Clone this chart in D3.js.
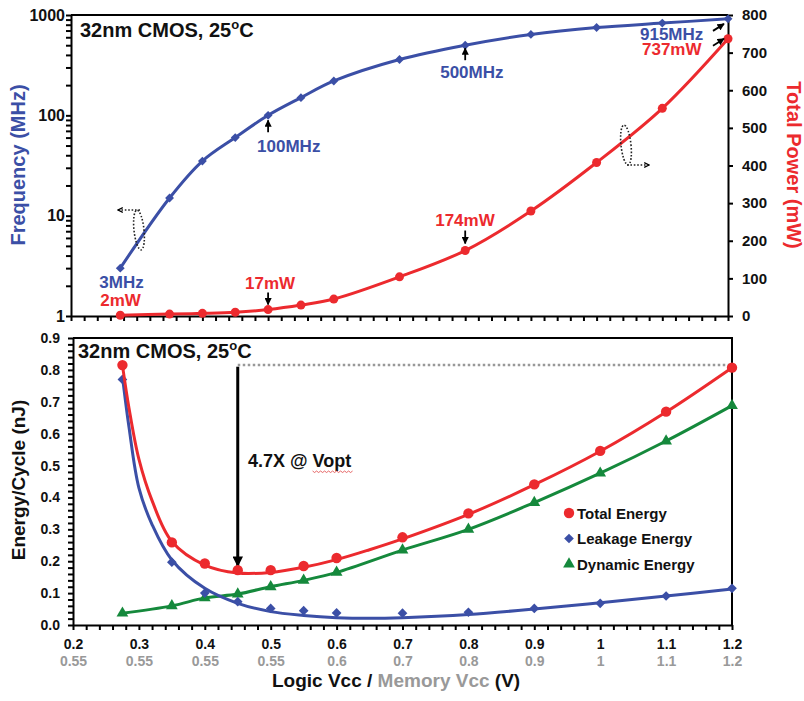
<!DOCTYPE html>
<html>
<head>
<meta charset="utf-8">
<script src="https://cdn.jsdelivr.net/npm/d3@7"></script>
<style>
  body { margin: 0; background: #fff; }
  text { font-family: "Liberation Sans", Arial, sans-serif; font-weight: bold; }
</style>
</head>
<body>
<svg id="chart" width="804" height="701"></svg>
<script>
// data
const vcc = [0.275, 0.35, 0.4, 0.45, 0.5, 0.55, 0.6, 0.7, 0.8, 0.9, 1.0, 1.1, 1.2];
const frequencyMHz = [3, 15, 35, 60, 100, 150, 220, 360, 500, 640, 750, 830, 915];
const totalPowerMW = [2, 5, 7, 10, 17, 29, 45, 104, 174, 279, 408, 552, 737];

const totalEnergy = [0.815, 0.259, 0.193, 0.172, 0.172, 0.185, 0.21, 0.275, 0.35, 0.441, 0.546, 0.669, 0.807];
const leakageEnergy = [0.77, 0.197, 0.1, 0.073, 0.052, 0.045, 0.038, 0.037, 0.04, 0.052, 0.068, 0.091, 0.115];
const dynamicEnergy = [0.037, 0.06, 0.085, 0.097, 0.12, 0.14, 0.165, 0.235, 0.3, 0.384, 0.476, 0.577, 0.688];

// trend lines as drawn in the figure (they run a little below the points in the valley)
const fitVcc = [0.275, 0.285, 0.3, 0.32, 0.35, 0.4, 0.45, 0.5, 0.55, 0.6, 0.65, 0.7, 0.8, 0.9, 1.0, 1.1, 1.2];
const totalFit = [0.815, 0.68, 0.52, 0.39, 0.262, 0.188, 0.163, 0.165, 0.181, 0.205, 0.236, 0.27, 0.347, 0.44, 0.545, 0.668, 0.807];
const leakageFit = [0.78, 0.62, 0.43, 0.315, 0.204, 0.115, 0.068, 0.042, 0.03, 0.023, 0.021, 0.023, 0.033, 0.05, 0.07, 0.091, 0.113];

const logicTicks = [0.2, 0.3, 0.4, 0.5, 0.6, 0.7, 0.8, 0.9, 1.0, 1.1, 1.2];
const logicTickLabels = ['0.2', '0.3', '0.4', '0.5', '0.6', '0.7', '0.8', '0.9', '1', '1.1', '1.2'];
const memoryTickLabels = ['0.55', '0.55', '0.55', '0.55', '0.6', '0.7', '0.8', '0.9', '1', '1.1', '1.2'];
const freqTicks = [1, 10, 100, 1000];
const powerTicks = [0, 100, 200, 300, 400, 500, 600, 700, 800];
const energyTicks = [0, 0.1, 0.2, 0.3, 0.4, 0.5, 0.6, 0.7, 0.8, 0.9];
const legendNames = ['Total Energy', 'Leakage Energy', 'Dynamic Energy'];

const BLUE = '#3b4fa6', RED = '#ec2a2e', GREEN = '#15893c', GRAY = '#999';

const svg = d3.select('#chart');

// arrow markers
const defs = svg.append('defs');
defs.append('marker').attr('id', 'tri')
  .attr('viewBox', '0 0 10 10').attr('refX', 9).attr('refY', 5)
  .attr('markerWidth', 4).attr('markerHeight', 4).attr('orient', 'auto')
  .append('path').attr('d', 'M0,0L10,5L0,10Z').attr('fill', '#000');
defs.append('marker').attr('id', 'chev')
  .attr('viewBox', '0 0 10 10').attr('refX', 9).attr('refY', 5)
  .attr('markerWidth', 6).attr('markerHeight', 6).attr('orient', 'auto')
  .attr('markerUnits', 'userSpaceOnUse')
  .append('path').attr('d', 'M1,1L9,5L1,9').attr('fill', 'none').attr('stroke', '#000').attr('stroke-width', 2);
defs.append('marker').attr('id', 'big')
  .attr('viewBox', '0 0 10 10').attr('refX', 10).attr('refY', 5)
  .attr('markerWidth', 4).attr('markerHeight', 3.5).attr('orient', 'auto')
  .append('path').attr('d', 'M0,0L10,5L0,10Z').attr('fill', '#000');

// ---------- top panel ----------
const xT = d3.scaleLinear().domain([0.2, 1.2]).range([71, 728]);
const yF = d3.scaleLog().domain([1, 1000]).range([316, 15]);
const yP = d3.scaleLinear().domain([0, 800]).range([316, 15]);
const minorX = d3.range(0, 51).map(i => 0.2 + i * 0.02);

const topG = svg.append('g');

topG.append('g').attr('transform', 'translate(0,316)')
  .call(d3.axisBottom(xT).tickValues(minorX).tickSize(5).tickSizeOuter(0).tickFormat(''))
  .call(g => g.selectAll('line,path').attr('stroke', '#000').attr('stroke-width', 2));

const logMinor = [];
[1, 10, 100].forEach(d => { for (let k = 1; k < 10; k++) logMinor.push(d * k); });
logMinor.push(1000);
topG.append('g').attr('transform', 'translate(71,0)')
  .call(d3.axisLeft(yF).tickValues(logMinor).tickSize(5).tickSizeOuter(0).tickFormat(''))
  .call(g => g.selectAll('line,path').attr('stroke', '#000').attr('stroke-width', 2));
topG.append('g').attr('transform', 'translate(71,0)')
  .call(d3.axisLeft(yF).tickValues(freqTicks).tickSize(0).tickPadding(6).tickFormat(d3.format('d')))
  .call(g => g.select('.domain').remove())
  .call(g => g.selectAll('text').attr('fill', '#111').attr('font-size', 16));

topG.append('g').attr('transform', 'translate(728,0)')
  .call(d3.axisRight(yP).tickValues(powerTicks).tickSize(5).tickPadding(9).tickSizeOuter(0))
  .call(g => g.selectAll('line,path').attr('stroke', '#000').attr('stroke-width', 2))
  .call(g => g.selectAll('text').attr('fill', '#111').attr('font-size', 15));

topG.append('line').attr('x1', 71).attr('x2', 728).attr('y1', 15).attr('y2', 15)
  .attr('stroke', '#000').attr('stroke-width', 2);

topG.append('text').attr('transform', 'translate(25,165) rotate(-90)')
  .attr('text-anchor', 'middle').attr('font-size', 20).attr('fill', BLUE).text('Frequency (MHz)');
topG.append('text').attr('transform', 'translate(787,165) rotate(90)')
  .attr('text-anchor', 'middle').attr('font-size', 20).attr('fill', RED).text('Total Power (mW)');

const freqLine = d3.line().x((d, i) => xT(vcc[i])).y(d => yF(d)).curve(d3.curveCatmullRom.alpha(0.5));
const powLine = d3.line().x((d, i) => xT(vcc[i])).y(d => yP(d)).curve(d3.curveCatmullRom.alpha(0.5));

topG.append('path').attr('d', freqLine(frequencyMHz)).attr('fill', 'none').attr('stroke', BLUE).attr('stroke-width', 3);
topG.append('path').attr('d', powLine(totalPowerMW)).attr('fill', 'none').attr('stroke', RED).attr('stroke-width', 3);

topG.selectAll('.fd').data(frequencyMHz).enter().append('path')
  .attr('d', d3.symbol(d3.symbolDiamond2, 50))
  .attr('transform', (d, i) => `translate(${xT(vcc[i])},${yF(d)})`).attr('fill', BLUE);
topG.selectAll('.pc').data(totalPowerMW).enter().append('circle')
  .attr('cx', (d, i) => xT(vcc[i])).attr('cy', d => yP(d)).attr('r', 4.5).attr('fill', RED);

function degText(g, x, y) {
  const t = g.append('text').attr('x', x).attr('y', y).attr('font-size', 20).attr('fill', '#111');
  t.append('tspan').text('32nm CMOS, 25');
  t.append('tspan').attr('dy', -8).attr('font-size', 13).text('o');
  t.append('tspan').attr('dy', 8).text('C');
}
degText(topG, 80, 37);

// callouts on the top panel
const callouts = [
  { v: 0.275, val: 3, s: 'f', label: '3MHz', lx: -21, ly: 20, color: BLUE },
  { v: 0.275, val: 2, s: 'p', label: '2mW', lx: -20, ly: -9, color: RED },
  { v: 0.5, val: 100, s: 'f', label: '100MHz', lx: -11, ly: 37, color: BLUE, a: [17, 5] },
  { v: 0.8, val: 500, s: 'f', label: '500MHz', lx: -25, ly: 33, color: BLUE, a: [15, 3] },
  { v: 0.5, val: 17, s: 'p', label: '17mW', lx: -23, ly: -21, color: RED, a: [-17, -5] },
  { v: 0.8, val: 174, s: 'p', label: '174mW', lx: -30, ly: -25, color: RED, a: [-20, -7] },
  { v: 1.2, val: 915, s: 'f', label: '915MHz', lx: -88, ly: 21, color: BLUE, d: [-15, 12, -4, 5] },
  { v: 1.2, val: 737, s: 'p', label: '737mW', lx: -86, ly: 16, color: RED, d: [-15, 7, -4, 0] }
];
callouts.forEach(c => {
  const px = xT(c.v), py = c.s === 'f' ? yF(c.val) : yP(c.val);
  topG.append('text').attr('x', px + c.lx).attr('y', py + c.ly)
    .attr('font-size', 17).attr('fill', c.color).text(c.label);
  if (c.a) {
    topG.append('line').attr('x1', px).attr('x2', px).attr('y1', py + c.a[0]).attr('y2', py + c.a[1])
      .attr('stroke', '#000').attr('stroke-width', 1.8).attr('marker-end', 'url(#tri)');
  }
  if (c.d) {
    topG.append('line').attr('x1', px + c.d[0]).attr('y1', py + c.d[1]).attr('x2', px + c.d[2]).attr('y2', py + c.d[3])
      .attr('stroke', '#000').attr('stroke-width', 1.8).attr('marker-end', 'url(#tri)');
  }
});

// dotted loops pointing at the axes
function loop(cx, cy, sx, sy, tx) {
  topG.append('ellipse').attr('cx', cx).attr('cy', cy).attr('rx', 5).attr('ry', 20)
    .attr('transform', `rotate(-6,${cx},${cy})`)
    .attr('fill', 'none').attr('stroke', '#222').attr('stroke-width', 1.6).attr('stroke-dasharray', '1.6,1.8');
  topG.append('line').attr('x1', sx).attr('y1', sy).attr('x2', tx).attr('y2', sy)
    .attr('stroke', '#222').attr('stroke-width', 1.6).attr('stroke-dasharray', '1.6,1.8')
    .attr('marker-end', 'url(#chev)');
}
loop(139, 230, 140, 210, 118);
loop(626, 145, 627, 165, 649);

// ---------- bottom panel ----------
const xB = d3.scaleLinear().domain([0.2, 1.2]).range([73, 732]);
const yE = d3.scaleLinear().domain([0, 0.9]).range([625, 338]);
const botG = svg.append('g');

botG.append('g').attr('transform', 'translate(0,625)')
  .call(d3.axisBottom(xB).tickValues(minorX).tickSize(5).tickSizeOuter(0).tickFormat(''))
  .call(g => g.selectAll('line,path').attr('stroke', '#000').attr('stroke-width', 2));
botG.append('g').attr('transform', 'translate(0,625)')
  .call(d3.axisBottom(xB).tickValues(logicTicks).tickSize(0).tickPadding(14).tickFormat((d, i) => logicTickLabels[i]))
  .call(g => g.select('.domain').remove())
  .call(g => g.selectAll('text').attr('fill', '#111').attr('font-size', 14));
botG.append('g').attr('transform', 'translate(0,625)')
  .call(d3.axisBottom(xB).tickValues(logicTicks).tickSize(0).tickPadding(31).tickFormat((d, i) => memoryTickLabels[i]))
  .call(g => g.select('.domain').remove())
  .call(g => g.selectAll('text').attr('fill', GRAY).attr('font-size', 14));

const minorY = d3.range(0, 46).map(i => i * 0.02);
botG.append('g').attr('transform', 'translate(73,0)')
  .call(d3.axisLeft(yE).tickValues(minorY).tickSize(5).tickSizeOuter(0).tickFormat(''))
  .call(g => g.selectAll('line,path').attr('stroke', '#000').attr('stroke-width', 2));
botG.append('g').attr('transform', 'translate(73,0)')
  .call(d3.axisLeft(yE).tickValues(energyTicks).tickSize(0).tickPadding(13).tickFormat(d3.format('.1f')))
  .call(g => g.select('.domain').remove())
  .call(g => g.selectAll('text').attr('fill', '#111').attr('font-size', 14));

botG.append('path').attr('d', `M73,338H732V625`).attr('fill', 'none').attr('stroke', '#000').attr('stroke-width', 2);

botG.append('text').attr('transform', 'translate(25,480) rotate(-90)')
  .attr('text-anchor', 'middle').attr('font-size', 19).attr('fill', '#111').text('Energy/Cycle (nJ)');

const xt = botG.append('text').attr('x', 272).attr('y', 687).attr('font-size', 19).attr('fill', '#111');
xt.append('tspan').text('Logic Vcc / ');
xt.append('tspan').attr('fill', GRAY).text('Memory Vcc');
xt.append('tspan').text(' (V)');

degText(botG, 78, 358);

// reference level and the 4.7X arrow
botG.append('line').attr('x1', xB(0.45)).attr('x2', xB(1.2)).attr('y1', yE(0.815)).attr('y2', yE(0.815))
  .attr('stroke', GRAY).attr('stroke-width', 2.5).attr('stroke-dasharray', '2.5,2.5');
botG.append('line').attr('x1', xB(0.45)).attr('x2', xB(0.45)).attr('y1', yE(0.81)).attr('y2', yE(0.182))
  .attr('stroke', '#000').attr('stroke-width', 3).attr('marker-end', 'url(#big)');

const ann = botG.append('text').attr('x', 248).attr('y', 467).attr('font-size', 18).attr('fill', '#111').text('4.7X @ Vopt');
const an = ann.node();
const s0 = an.getStartPositionOfChar(7).x, s1 = an.getEndPositionOfChar(10).x;
let zig = `M${s0},471`;
for (let xx = s0, k = 0; xx < s1; xx += 2, k++) zig += `L${xx + 2},${k % 2 ? 471 : 472.5}`;
botG.append('path').attr('d', zig).attr('fill', 'none').attr('stroke', '#e04040').attr('stroke-width', 0.8);

const smooth = d3.curveCatmullRom.alpha(0.5);
const fitLine = d3.line().x((d, i) => xB(fitVcc[i])).y(d => yE(d)).curve(smooth);
const ptLine = d3.line().x((d, i) => xB(vcc[i])).y(d => yE(d)).curve(smooth);
const series = [
  { vals: dynamicEnergy, path: ptLine(dynamicEnergy), color: GREEN, sym: d3.symbolTriangle, size: 60 },
  { vals: leakageEnergy, path: fitLine(leakageFit), color: BLUE, sym: d3.symbolDiamond2, size: 60 },
  { vals: totalEnergy, path: fitLine(totalFit), color: RED, sym: d3.symbolCircle, size: 85 }
];
series.forEach(s => {
  botG.append('path').attr('d', s.path).attr('fill', 'none').attr('stroke', s.color).attr('stroke-width', 3);
  botG.selectAll(null).data(s.vals).enter().append('path')
    .attr('d', d3.symbol(s.sym, s.size))
    .attr('transform', (d, i) => `translate(${xB(vcc[i])},${yE(d)})`).attr('fill', s.color);
});

// legend
const legSyms = [[d3.symbolCircle, RED, 85], [d3.symbolDiamond2, BLUE, 60], [d3.symbolTriangle, GREEN, 60]];
legendNames.forEach((name, i) => {
  const ly = 513 + i * 25.5;
  botG.append('path').attr('d', d3.symbol(legSyms[i][0], legSyms[i][2]))
    .attr('transform', `translate(569,${ly})`).attr('fill', legSyms[i][1]);
  botG.append('text').attr('x', 577).attr('y', ly + 5.5).attr('font-size', 15).attr('fill', '#111').text(name);
});
</script>
</body>
</html>
